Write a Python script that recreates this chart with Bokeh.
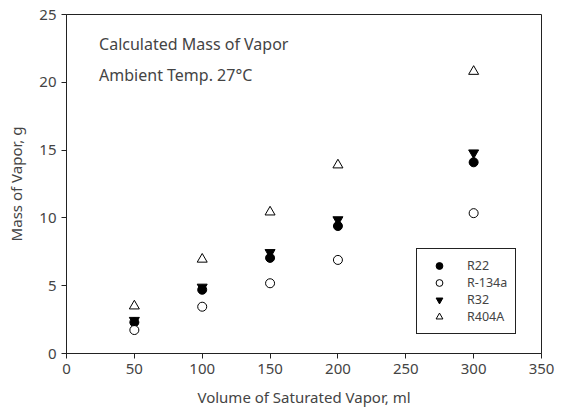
from bokeh.plotting import figure
from bokeh.models import Range1d, FixedTicker, Label, Legend, LegendItem
from bokeh.embed import file_html
from bokeh.resources import INLINE

volume = [50, 100, 150, 200, 300]
r22 = [2.3, 4.7, 7.05, 9.4, 14.1]
r134a = [1.73, 3.45, 5.18, 6.9, 10.35]
r32 = [2.45, 4.9, 7.45, 9.87, 14.8]
r404a = [3.5, 6.95, 10.43, 13.9, 20.8]
series_names = ["R22", "R-134a", "R32", "R404A"]
x_ticks = [0, 50, 100, 150, 200, 250, 300, 350]
y_ticks = [0, 5, 10, 15, 20, 25]

FONT = "Noto Sans"
TXT = "#444444"

p = figure(frame_width=475, frame_height=339, output_backend="svg", toolbar_location=None,
           x_range=Range1d(0, 350), y_range=Range1d(0, 25),
           min_border_left=66, min_border_right=21, min_border_top=14, min_border_bottom=62)
p.xgrid.visible = False
p.ygrid.visible = False
p.outline_line_color = "#222222"
p.outline_line_width = 1
p.outline_line_alpha = 1

for ax, ticks in ((p.xaxis, x_ticks), (p.yaxis, y_ticks)):
    ax.ticker = FixedTicker(ticks=ticks)
    ax.minor_tick_line_color = None
    ax.major_tick_in = 0
    ax.major_tick_out = 5
    ax.axis_line_color = "#222222"
    ax.major_tick_line_color = "#222222"
    ax.major_label_text_font = FONT
    ax.major_label_text_font_size = "15px"
    ax.major_label_text_color = TXT
    ax.axis_label_text_font = FONT
    ax.axis_label_text_font_size = "15px"
    ax.axis_label_text_font_style = "normal"
    ax.axis_label_text_color = TXT

p.xaxis.axis_label = "Volume of Saturated Vapor, ml"
p.yaxis.axis_label = "Mass of Vapor, g"
p.xaxis.major_label_standoff = 5
p.yaxis.major_label_standoff = 5
p.xaxis.axis_label_standoff = 10
p.yaxis.axis_label_standoff = 10

g1 = p.scatter(volume, r22, marker="circle", size=9, fill_color="black", line_color="black")
g2 = p.scatter(volume, r134a, marker="circle", size=9, fill_color="white", line_color="black")
g3 = p.scatter(volume, r32, marker="inverted_triangle", size=10, fill_color="black", line_color="black")
g4 = p.scatter(volume, r404a, marker="triangle", size=10, fill_color="white", line_color="black")

legend = Legend(items=[LegendItem(label=n, renderers=[g]) for n, g in zip(series_names, [g1, g2, g3, g4])],
                location=(350, 19))
legend.border_line_color = "#222222"
legend.border_line_width = 1
legend.border_line_alpha = 1
legend.background_fill_alpha = 1
legend.label_text_font = FONT
legend.label_text_font_size = "12.5px"
legend.label_text_color = TXT
legend.glyph_height = 17
legend.glyph_width = 28
legend.label_height = 17
legend.spacing = 0
legend.padding = 8
legend.margin = 0
legend.label_standoff = 14
p.add_layout(legend)

for txt, yv in (("Calculated Mass of Vapor", 22.85), ("Ambient Temp. 27\u00b0C", 20.55)):
    p.add_layout(Label(x=24, y=yv, text=txt, text_font=FONT, text_font_size="16px",
                       text_color=TXT, text_baseline="middle"))

open("out.html", "w").write(file_html(p, INLINE))
